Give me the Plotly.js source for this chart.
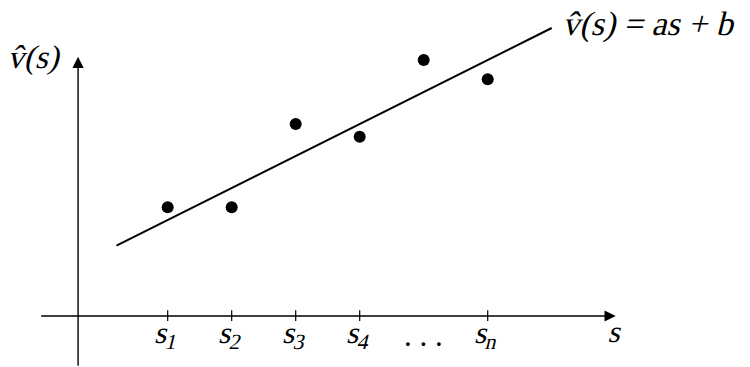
<!DOCTYPE html>
<html>
<head>
<meta charset="utf-8">
<script src="https://cdn.plot.ly/plotly-3.0.1.min.js"></script>
<style>html,body{margin:0;padding:0;background:#fff;}#chart{width:750px;height:367px;}</style>
</head>
<body>
<div id="chart"></div>
<script>
// Sample points (s index, value)
const sPos = [1, 2, 3, 4, 5, 6];
const vVals = [1.7, 1.7, 3.0, 2.8, 4.0, 3.7];
// Fitted line endpoints  v̂(s) = a s + b
const fitS = [0.2, 7.0];
const fitV = [1.1, 4.5];
// Tick positions and labels on the s axis
const tickPos = [1, 2, 3, 4, 5, 6];
const tickLabels = ['s<sub>1</sub>', 's<sub>2</sub>', 's<sub>3</sub>', 's<sub>4</sub>', '. . .', 's<sub>n</sub>'];
const tickMarked = [true, true, true, true, false, true];
// Axes extents (drawn axes)
const originS = -0.4;
const sAxisExtent = [-1.0, 8.0];
const vAxisExtent = [-0.8, 4.0];
const sAxisTitle = 's';
const vAxisTitle = 'v̂(s)';
const fitTitle = 'v̂(s) = as + b';

const FONT = 'Liberation Serif';
const FS = 31;

const traces = [
  {x: fitS, y: fitV, mode: 'lines', line: {color: '#000', width: 2}, hoverinfo: 'skip', showlegend: false},
  {x: sPos, y: vVals, mode: 'markers', marker: {color: '#000', size: 12}, hoverinfo: 'skip', showlegend: false}
];

const shapes = [];
const annotations = [];
tickPos.forEach((p, i) => {
  if (tickMarked[i]) {
    shapes.push({type: 'line', xref: 'x', yref: 'y', x0: p, x1: p, y0: -0.08, y1: 0.09, line: {color: '#000', width: 1.2}});
  }
  annotations.push({xref: 'x', yref: 'y', x: p, y: -0.3, text: tickLabels[i], showarrow: false,
    font: {family: FONT, size: FS, color: '#000'}, xanchor: 'center', yanchor: 'middle'});
});
// s axis with arrow
annotations.push({xref: 'x', yref: 'y', axref: 'x', ayref: 'y', x: sAxisExtent[1], y: 0, ax: sAxisExtent[0], ay: 0,
  text: '', showarrow: true, arrowhead: 2, arrowsize: 1.6, arrowwidth: 1.4, arrowcolor: '#000', standoff: 0});
// v axis with arrow
annotations.push({xref: 'x', yref: 'y', axref: 'x', ayref: 'y', x: originS, y: vAxisExtent[1] + 0.05, ax: originS, ay: vAxisExtent[0],
  text: '', showarrow: true, arrowhead: 2, arrowsize: 1.6, arrowwidth: 1.4, arrowcolor: '#000', standoff: 0});
// axis titles
annotations.push({xref: 'x', yref: 'y', x: 8.0, y: -0.25, text: sAxisTitle, showarrow: false,
  font: {family: FONT, size: FS, color: '#000'}, xanchor: 'center', yanchor: 'middle'});
annotations.push({xref: 'x', yref: 'y', x: -1.066, y: 4.04, text: vAxisTitle, showarrow: false,
  font: {family: FONT, size: FS + 2, color: '#000'}, xanchor: 'center', yanchor: 'middle'});
annotations.push({xref: 'x', yref: 'y', x: 7.17, y: 4.56, text: fitTitle, showarrow: false,
  font: {family: FONT, size: FS + 3, color: '#000'}, xanchor: 'left', yanchor: 'middle'});

const layout = {
  width: 750, height: 367,
  margin: {l: 0, r: 0, t: 0, b: 0},
  paper_bgcolor: '#fff', plot_bgcolor: '#fff',
  font: {family: FONT, size: FS, color: '#000'},
  xaxis: {range: [-1.620, 10.098], visible: false, fixedrange: true},
  yaxis: {range: [-0.797, 4.9375], visible: false, fixedrange: true},
  shapes: shapes,
  annotations: annotations,
  showlegend: false
};

Plotly.newPlot('chart', traces, layout, {displayModeBar: false, staticPlot: true}).then(gd => {
  // Slant the math letters (italic serif face not available): oblique via skew
  gd.querySelectorAll('.annotation-text').forEach(t => {
    if (/[a-z]/.test(t.textContent)) {
      t.style.transformBox = 'fill-box';
      t.style.transformOrigin = 'center';
      t.style.transform = 'skewX(-14deg)';
    }
  });
});
</script>
</body>
</html>
